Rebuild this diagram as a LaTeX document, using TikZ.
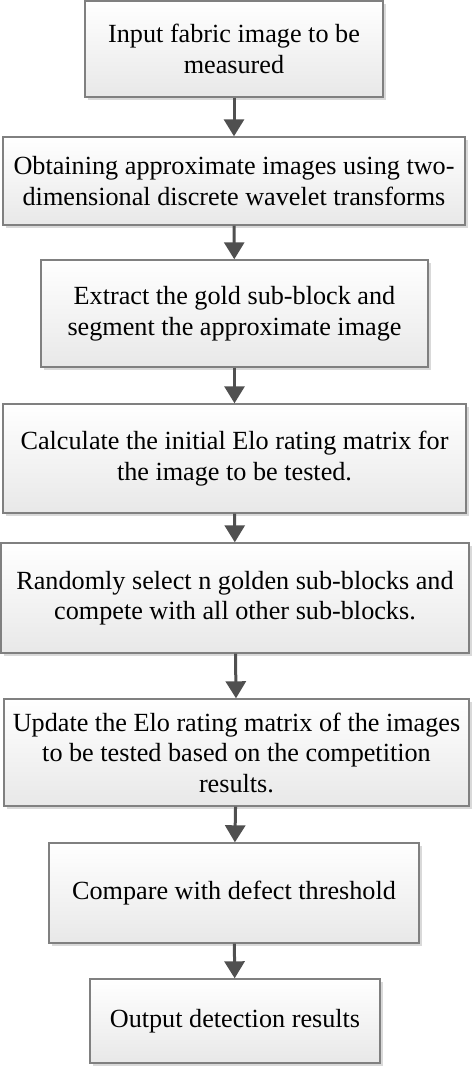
\documentclass[tikz,border=0pt]{standalone}
\usepackage{fontspec}
\setmainfont{Liberation Serif}
\usetikzlibrary{arrows.meta, shadows}
\definecolor{framegray}{RGB}{128,128,128}
\definecolor{arrowgray}{RGB}{80,80,80}
\tikzset{
stage/.style={draw=framegray, line width=1.4pt, top color=white, bottom color=black!9,
  drop shadow={shadow xshift=2.5pt, shadow yshift=-2.5pt, fill=black!15, opacity=1},
  align=center, inner sep=0pt, font=\fontsize{26.2}{30.5}\selectfont},
flow/.style={draw=arrowgray, line width=3pt, -{Triangle[length=17pt, width=20pt]}}
}
\begin{document}
\begin{tikzpicture}[x=1pt, y=-1pt]
\useasboundingbox (0,0) rectangle (474,1068);
\node[stage, minimum width=298pt, minimum height=96pt] (input) at (234,49) {Input fabric image to be\\measured};
\node[stage, minimum width=462pt, minimum height=88pt] (wavelet) at (234,181) {Obtaining approximate images using two-\\dimensional discrete wavelet transforms};
\node[stage, minimum width=387pt, minimum height=107pt] (extract) at (234.5,313.5) {Extract the gold sub-block and\\segment the approximate image};
\node[stage, minimum width=463pt, minimum height=109pt] (initial) at (234.5,458.5) {Calculate the initial Elo rating matrix for\\the image to be tested.};
\node[stage, minimum width=468pt, minimum height=110pt] (select) at (235,598) {Randomly select n golden sub-blocks and\\compete with all other sub-blocks.};
\node[stage, minimum width=465pt, minimum height=107pt] (update) at (236.5,752.5) {Update the Elo rating matrix of the images\\to be tested based on the competition\\results.};
\node[stage, minimum width=370pt, minimum height=100pt] (compare) at (234,893) {Compare with defect threshold};
\node[stage, minimum width=290pt, minimum height=84pt] (output) at (235,1021) {Output detection results};
\draw[flow] (input) -- (wavelet);
\draw[flow] (wavelet) -- (extract);
\draw[flow] (extract) -- (initial);
\draw[flow] (initial) -- (select);
\draw[flow] (select) -- (update);
\draw[flow] (update) -- (compare);
\draw[flow] (compare) -- (output);
\end{tikzpicture}
\end{document}
